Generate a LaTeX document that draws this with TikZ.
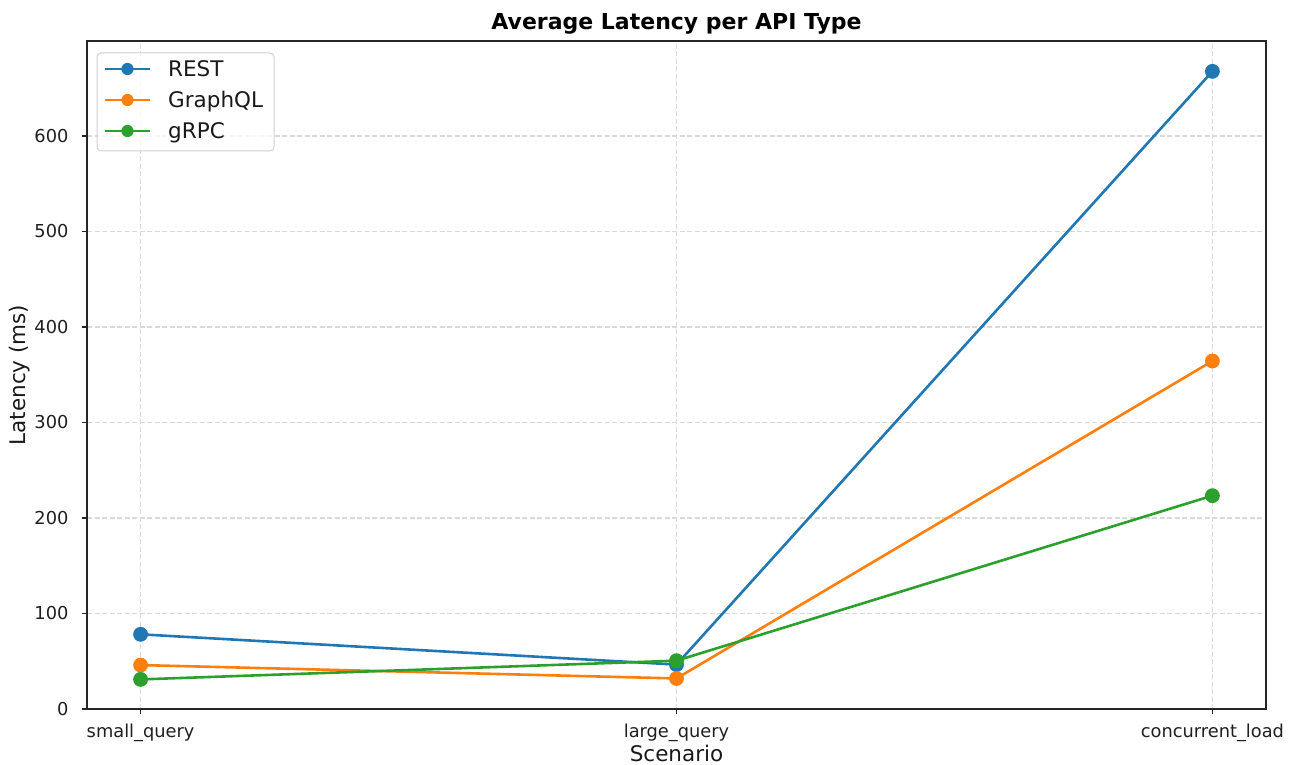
\documentclass[tikz,border=0pt]{standalone}
\usepackage{fontspec}
\setmainfont{DejaVu Sans}
\usepackage{tikz}
\usepackage{pgfplots}
\pgfplotsset{compat=1.18}

\definecolor{restblue}{HTML}{1F77B4}
\definecolor{gqlorange}{HTML}{FF7F0E}
\definecolor{grpcgreen}{HTML}{2CA02C}
\definecolor{gridgray}{HTML}{D9D9D9}
\definecolor{spine}{HTML}{262626}

\begin{document}
\begin{tikzpicture}[
    x=1pt, y=1pt,
    series/.style={line width=2.6pt, mark=*, mark size=6.1pt, mark options={solid}},
    labelfont/.style={font=\fontsize{21.5}{25}\selectfont, text=black!90},
    legendbox/.style={draw=black!18, line width=1pt, rounded corners=4pt, fill=white, fill opacity=0.8}
]
    \useasboundingbox (0,0) rectangle (1297,764);

    % Axes and data
    \begin{axis}[
        at={(87pt,55pt)}, anchor=south west,
        scale only axis, width=1179pt, height=668pt,
        xmin=-0.1, xmax=2.1, ymin=0, ymax=699.5,
        xtick={0,1,2},
        xticklabels={small\_query, large\_query, concurrent\_load},
        ytick={0,100,...,600},
        yticklabels={0,100,200,300,400,500,600},
        xtick pos=bottom, ytick pos=left,
        tick align=outside, major tick length=5pt,
        tick style={spine, line width=1.1pt},
        axis line style={spine, line width=1.4pt},
        grid=major,
        grid style={gridgray, line width=1.1pt, dash pattern=on 5pt off 2.5pt},
        ticklabel style={font=\fontsize{17.8}{20}\selectfont, text=black!88},
        xticklabel style={anchor=base, yshift=-23pt},
        yticklabel style={anchor=east, xshift=-10pt},
        clip=false
    ]
        \addplot[series, color=restblue] coordinates {(0,78.2) (1,46.5) (2,667.7)};
        \addplot[series, color=gqlorange] coordinates {(0,46) (1,32) (2,364.4)};
        \addplot[series, color=grpcgreen] coordinates {(0,31) (1,50.6) (2,223.4)};
    \end{axis}

    % Title and axis labels
    \node[anchor=base, font=\fontsize{22}{26}\selectfont\bfseries] (title) at (676.5,734) {Average Latency per API Type};
    \node[anchor=base, labelfont, inner sep=0pt] (xlab) at (676.5,3) {Scenario};
    \node[anchor=base, labelfont, rotate=90] (ylab) at (25,389) {Latency (ms)};

    % Legend
    \draw[legendbox] (97,711) rectangle (274,613);
    \foreach \col/\name/\ry in {restblue/REST/695, gqlorange/GraphQL/664, grpcgreen/gRPC/633} {
        \draw[\col, line width=2.6pt] (105,\ry) -- (150,\ry);
        \fill[\col] (127.5,\ry) circle (6.1pt);
        \node[anchor=base west, labelfont, inner sep=0pt] (leg-\name) at (168,\ry-7.5) {\name};
    }
\end{tikzpicture}
\end{document}
